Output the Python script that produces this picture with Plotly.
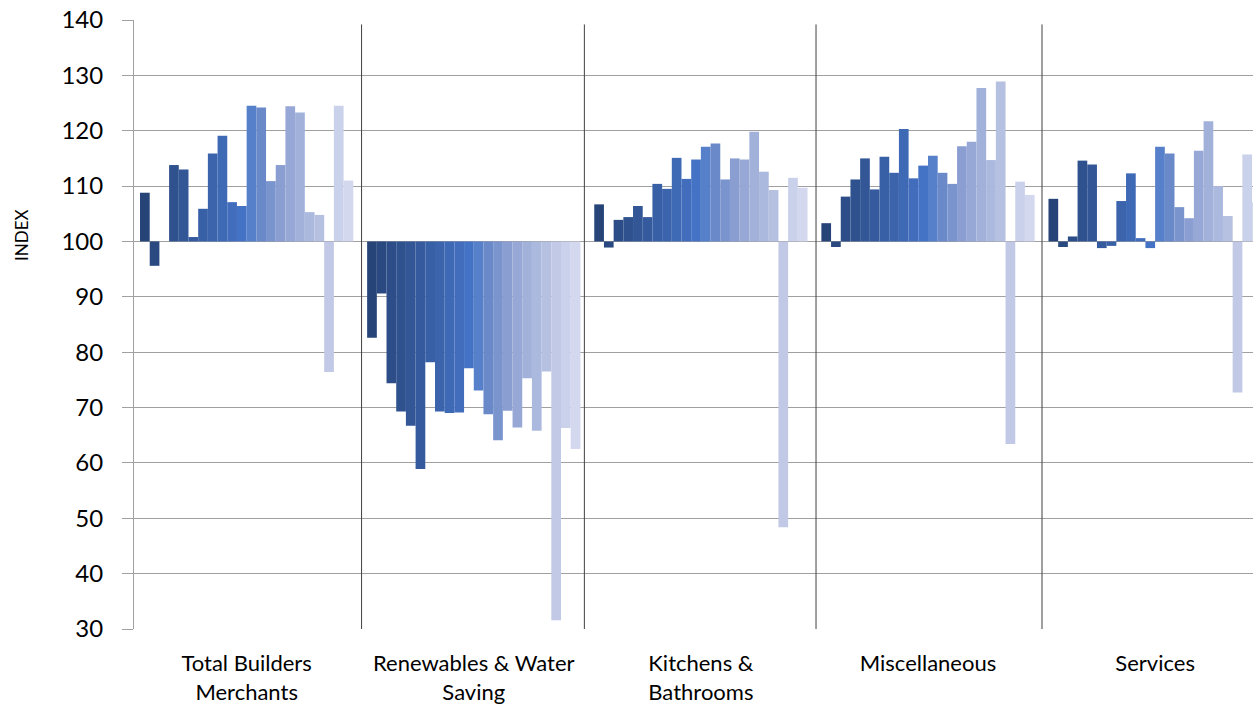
import plotly.graph_objects as go

categories = ["Total Builders<br>Merchants", "Renewables & Water<br>Saving",
              "Kitchens &<br>Bathrooms", "Miscellaneous", "Services"]

series_names = [f"Period {i}" for i in range(1, 23)]

total_builders = [108.8, 95.6, None, 113.8, 113.0, 100.8, 105.9, 115.9, 119.1, 107.1, 106.4,
                  124.5, 124.2, 110.9, 113.8, 124.4, 123.3, 105.3, 104.8, 76.4, 124.5, 111.0]
renewables = [82.6, 90.6, 74.4, 69.3, 66.7, 58.9, 78.2, 69.3, 69.0, 69.1, 77.1,
              73.1, 68.8, 64.1, 69.4, 66.4, 75.3, 65.8, 76.5, 31.6, 66.3, 62.5]
kitchens = [106.7, 98.9, 103.9, 104.4, 106.4, 104.4, 110.4, 109.5, 115.1, 111.3, 114.8,
            117.1, 117.7, 111.2, 115.0, 114.8, 119.8, 112.6, 109.3, 48.4, 111.5, 109.7]
miscellaneous = [103.3, 99.0, 108.1, 111.2, 115.0, 109.4, 115.3, 112.4, 120.3, 111.4, 113.7,
                 115.5, 112.4, 110.4, 117.2, 118.0, 127.7, 114.7, 128.9, 63.4, 110.8, 108.4]
services = [107.7, 99.0, 100.9, 114.6, 113.9, 98.8, 99.2, 107.3, 112.3, 100.6, 98.8,
            117.1, 115.9, 106.2, 104.2, 116.4, 121.7, 110.0, 104.6, 72.7, 115.7, 107.1]

base_index = 100
y_ticks = [30, 40, 50, 60, 70, 80, 90, 100, 110, 120, 130, 140]
y_title = "INDEX"

colors = ["#264478", "#294980", "#2C4D87", "#2F528F", "#325696", "#355B9E",
          "#3860A6", "#3B64AD", "#3E69B5", "#416DBC", "#4472C4",
          "#5680CA", "#6A89C9", "#7A94CE", "#8A9ED2", "#97A8D6", "#A2B1DA",
          "#ACB9DE", "#B6C1E2", "#C1C9E6", "#CAD1EA", "#D3D8EE"]

divider_positions = [0.506, 1.487, 2.507, 3.502]

groups = [total_builders, renewables, kitchens, miscellaneous, services]

fig = go.Figure()
for i, name in enumerate(series_names):
    vals = [g[i] for g in groups]
    fig.add_trace(go.Bar(
        x=categories,
        y=[None if v is None else v - base_index for v in vals],
        base=base_index,
        name=name,
        marker=dict(color=colors[i], line=dict(width=0)),
        showlegend=False,
    ))

for xp in divider_positions:
    fig.add_shape(type="line", xref="x", yref="y", x0=xp, x1=xp, y0=30, y1=139.2,
                  line=dict(color="#404040", width=1))

font_family = "Lato, 'Open Sans', Arial, sans-serif"

fig.add_annotation(
    text=y_title, xref="paper", yref="paper",
    x=-0.1001, y=0.647, xanchor="center", yanchor="middle",
    textangle=-90, showarrow=False,
    font=dict(size=17, color="#000000", family=font_family),
)

fig.update_layout(
    width=1253, height=706,
    margin=dict(l=134, r=0, t=20, b=77, autoexpand=False),
    paper_bgcolor="white", plot_bgcolor="white",
    barmode="group", bargap=0.061, bargroupgap=0,
    font=dict(family=font_family, color="#000000"),
    xaxis=dict(
        type="category",
        range=[-0.496, 4.431],
        automargin=False,
        showgrid=False,
        ticks="outside", ticklen=15, tickcolor="rgba(0,0,0,0)",
        tickfont=dict(size=22, color="#000000"),
        showline=False, zeroline=False,
    ),
    yaxis=dict(
        range=[30, 140],
        automargin=False,
        tickvals=y_ticks,
        showgrid=True, gridcolor="#a0a0a0", gridwidth=1,
        showline=True, linecolor="#a0a0a0", linewidth=1,
        ticks="outside", ticklen=11, tickcolor="#a0a0a0",
        ticklabelstandoff=14,
        tickfont=dict(size=24, color="#000000"),
        zeroline=False,
    ),
)

fig.write_html("out.html",
               config={"displayModeBar": False},
               post_script="document.body.style.margin='0';document.body.style.overflow='hidden';")
